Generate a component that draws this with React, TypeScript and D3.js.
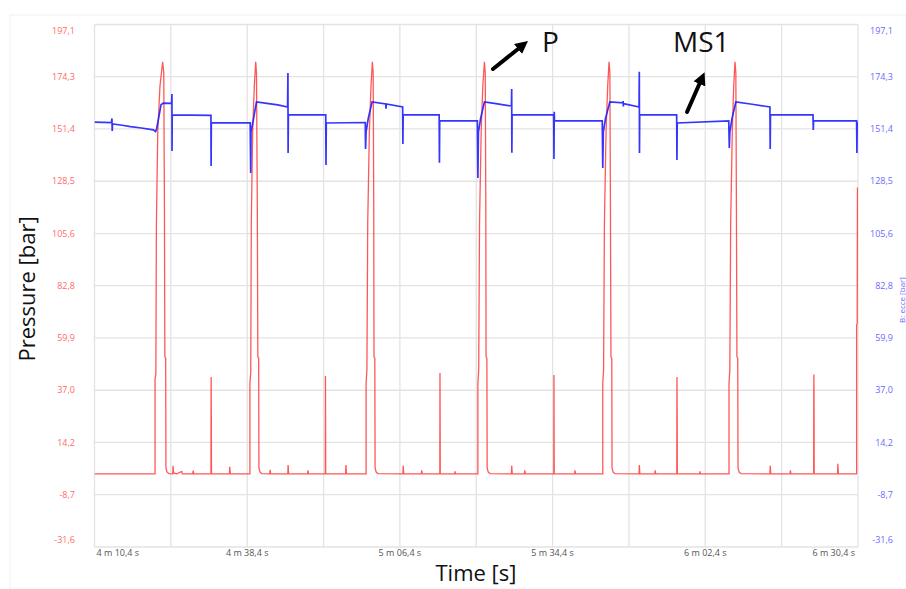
import React from "react";
import * as d3 from "d3";

// Pressure trace P [bar] over time [s]
const pressureP: [number, number][] = [
  [250.4, 0.4],
  // cycle 1
  [261.5, 0.4], [261.5, 42], [261.65, 44], [261.75, 110], [262.0, 150], [262.4, 170], [262.9, 180.8],
  [263.1, 176], [263.22, 120], [263.3, 51.6], [263.45, 51], [263.5, 3], [263.7, 1.2], [264.1, 0.5],
  [264.75, 0.4], [264.8, 3.9], [264.9, 0.8], [265.5, 0.4], [266.4, 1.5], [266.5, 0.4],
  [268.4, 0.4], [268.5, 1.8], [268.6, 0.4],
  [271.75, 0.4], [271.77, 27], [271.79, 42.8], [271.82, 27], [271.85, 0.5],
  [275.15, 0.4], [275.2, 3.5], [275.3, 0.4],
  // cycle 2
  [278.9, 0.4], [278.9, 40], [279.05, 45], [279.15, 110], [279.4, 150], [279.7, 170], [279.96, 180.8],
  [280.1, 176], [280.25, 120], [280.35, 51.6], [280.5, 51], [280.55, 3], [280.75, 1.2], [281.1, 0.5],
  [282.55, 0.4], [282.6, 2.2], [282.7, 0.4],
  [285.85, 0.4], [285.9, 4.3], [286.0, 0.4],
  [289.5, 0.4], [289.55, 2.0], [289.65, 0.4],
  [292.72, 0.4], [292.75, 43.2], [292.8, 0.5],
  [296.45, 0.4], [296.5, 4.3], [296.6, 0.4],
  // cycle 3
  [300.2, 0.4], [300.2, 40], [300.35, 46], [300.5, 110], [300.8, 150], [301.1, 170], [301.35, 180.8],
  [301.5, 176], [301.6, 120], [301.65, 51.6], [301.8, 51], [301.85, 3], [302.05, 1.2], [302.4, 0.5],
  [306.95, 0.4], [307.0, 4.0], [307.1, 0.4],
  [310.35, 0.4], [310.4, 2.0], [310.5, 0.4],
  [313.72, 0.4], [313.75, 44.6], [313.8, 0.5],
  [316.45, 0.4], [316.5, 1.5], [316.6, 0.4],
  // cycle 4
  [320.7, 0.4], [320.7, 40], [320.85, 46], [321.0, 110], [321.3, 150], [321.6, 170], [321.9, 180.8],
  [322.05, 176], [322.15, 120], [322.2, 51.6], [322.35, 51], [322.4, 3], [322.6, 1.2], [322.95, 0.5],
  [326.85, 0.4], [326.9, 4.0], [327.0, 0.4],
  [329.25, 0.4], [329.3, 2.0], [329.4, 0.4],
  [334.62, 0.4], [334.65, 43.7], [334.7, 0.5],
  [338.45, 0.4], [338.5, 2.0], [338.6, 0.4],
  // cycle 5
  [343.6, 0.4], [343.6, 40], [343.75, 46], [343.9, 110], [344.2, 150], [344.5, 170], [344.75, 180.8],
  [344.9, 176], [345.0, 120], [345.1, 51.6], [345.25, 51], [345.3, 3], [345.5, 1.2], [345.85, 0.5],
  [350.25, 0.4], [350.3, 4.3], [350.4, 0.4],
  [353.15, 0.4], [353.2, 2.0], [353.3, 0.4],
  [357.17, 0.4], [357.19, 27], [357.21, 42.8], [357.24, 27], [357.27, 0.5],
  [361.35, 0.4], [361.4, 1.5], [361.5, 0.4],
  // cycle 6
  [366.75, 0.4], [366.75, 40], [366.9, 46], [367.05, 110], [367.35, 150], [367.6, 170], [367.85, 180.8],
  [368.0, 176], [368.1, 120], [368.2, 51.6], [368.35, 51], [368.4, 3], [368.6, 1.2], [368.95, 0.5],
  [374.25, 0.4], [374.3, 4.0], [374.4, 0.4],
  [377.95, 0.4], [378.0, 2.0], [378.1, 0.4],
  [382.27, 0.4], [382.29, 33.6], [382.31, 43.9], [382.34, 33.6], [382.37, 0.5],
  [386.65, 0.4], [386.7, 4.8], [386.8, 0.4],
  // start of cycle 7
  [390.15, 0.4], [390.15, 65.6], [390.25, 66], [390.3, 125.5], [390.4, 125.5],
];

// MS1 trace [bar] over time [s]
const pressureMS1: [number, number][] = [
  [250.4, 154.4], [253.5, 154.2], [253.6, 156], [253.65, 150.5], [253.7, 153.6],
  [255.5, 153.0], [257.0, 152.4], [259.0, 151.8], [261.2, 151.0], [261.6, 150.2],
  [261.8, 151.5], [262.3, 158], [262.6, 162], [263.0, 162.7], [264.55, 162.6],
  [264.6, 166.7], [264.62, 141.7], [264.65, 157.5], [271.75, 157.3],
  [271.78, 135.2], [271.82, 154.0], [278.95, 154.0],
  // cycle 2
  [279.04, 132.1], [279.1, 150], [279.5, 155], [280.1, 163.2], [282.0, 162.6], [284.0, 161.9],
  [285.8, 161.0], [285.87, 175.9], [285.9, 140.9], [285.95, 157.5], [292.8, 157.5],
  [292.85, 135.6], [292.9, 154.0], [300.05, 154.2],
  // cycle 3
  [300.1, 142.6], [300.2, 150], [300.6, 156], [301.3, 163.2], [303.8, 162.3], [303.85, 160.2],
  [303.9, 162.3], [306.9, 161.0], [306.95, 144.8], [307.0, 157.5], [313.6, 157.5],
  [313.65, 136.6], [313.7, 154.9], [320.6, 154.9],
  // cycle 4
  [320.7, 129.9], [320.8, 150], [321.2, 156], [321.9, 163.2], [324.0, 162.5], [326.85, 161.4],
  [326.9, 168.9], [326.93, 141.0], [326.97, 157.5], [334.6, 157.5],
  [334.65, 138.2], [334.7, 158.9], [334.75, 154.9], [343.5, 154.9],
  // cycle 5
  [343.6, 134.3], [343.7, 150], [344.1, 156], [344.9, 163.2], [347.3, 162.8], [347.33, 163.6],
  [347.37, 161.2], [347.4, 162.5], [350.25, 161.0], [350.3, 176.4], [350.33, 140.9],
  [350.37, 157.5], [357.15, 157.5], [357.2, 137.8], [357.25, 154.0], [366.7, 154.9],
  // cycle 6
  [366.8, 143.0], [366.9, 150], [367.3, 156], [368.0, 163.2], [371.0, 162.2], [374.25, 161.0],
  [374.3, 142.6], [374.35, 157.5], [382.15, 157.5], [382.2, 150.9], [382.25, 154.9],
  [390.15, 154.9], [390.2, 140.9], [390.25, 154.0], [390.4, 154.0],
];

// Axis ticks
const valueTicks = [197.1, 174.3, 151.4, 128.5, 105.6, 82.8, 59.9, 37.0, 14.2, -8.7, -31.6];
const timeGrid = [250.4, 264.4, 278.4, 292.4, 306.4, 320.4, 334.4, 348.4, 362.4, 376.4, 390.4];
const timeLabels: [number, string][] = [
  [250.4, "4 m 10,4 s"],
  [278.4, "4 m 38,4 s"],
  [306.4, "5 m 06,4 s"],
  [334.4, "5 m 34,4 s"],
  [362.4, "6 m 02,4 s"],
  [390.4, "6 m 30,4 s"],
];

const W = 906;
const H = 589;
const plot = { left: 94.5, right: 858, top: 24.5, bottom: 547 };
const FONT = "'Open Sans', 'DejaVu Sans', sans-serif";

const fmt = (v: number) => v.toFixed(1).replace(".", ",");

export default function App() {
  const x = d3.scaleLinear().domain([250.4, 390.4]).range([plot.left, plot.right]);
  const y = d3.scaleLinear().domain([-31.6, 197.1]).range([plot.bottom, plot.top]);
  const line = d3
    .line<[number, number]>()
    .x((d) => x(d[0]))
    .y((d) => y(d[1]));

  const labelY = (v: number) => {
    const py = y(v);
    return Math.min(Math.max(py, plot.top + 6), plot.bottom - 7);
  };

  return (
    <svg
      width={W}
      height={H}
      style={{ position: "absolute", left: 0, top: 0, background: "#fff" }}
      fontFamily={FONT}
    >
      <defs>
        <clipPath id="plotClip">
          <rect x={plot.left} y={plot.top} width={plot.right - plot.left} height={plot.bottom - plot.top} />
        </clipPath>
        <marker id="arrowHead" viewBox="0 0 10 10" refX="5" refY="5" markerWidth="3.2" markerHeight="3.2" orient="auto">
          <path d="M0,0 L10,5 L0,10 z" fill="#000" />
        </marker>
      </defs>

      {/* outer frame */}
      <rect x={10} y={15} width={W - 10} height={H - 15} fill="none" stroke="#f2f2f2" strokeWidth={1} />

      {/* grid */}
      <g stroke="#e3e3e3" strokeWidth={1.3}>
        {valueTicks.map((v) => (
          <line key={"h" + v} x1={plot.left} x2={plot.right} y1={y(v)} y2={y(v)} />
        ))}
        {timeGrid.map((t) => (
          <line key={"v" + t} x1={x(t)} x2={x(t)} y1={plot.top} y2={plot.bottom} />
        ))}
      </g>

      {/* left axis labels */}
      <g fontSize={9} fill="#ff6a6a" textAnchor="end">
        {valueTicks.map((v) => (
          <text key={"l" + v} x={75} y={labelY(v)} dy="0.35em">
            {fmt(v)}
          </text>
        ))}
      </g>
      {/* right axis labels */}
      <g fontSize={9} fill="#6a6aff" textAnchor="end">
        {valueTicks.map((v) => (
          <text key={"r" + v} x={893} y={labelY(v)} dy="0.35em">
            {fmt(v)}
          </text>
        ))}
      </g>
      <text
        transform="translate(905,300) rotate(-90)"
        fontSize={8}
        fill="#6a6aff"
        textAnchor="middle"
      >
        B: ecce [bar]
      </text>

      {/* time labels */}
      <g fontSize={9} fill="#555">
        {timeLabels.map(([t, s], i) => (
          <text
            key={s}
            x={i === 0 ? x(t) + 2 : i === timeLabels.length - 1 ? x(t) - 3 : x(t)}
            y={556}
            textAnchor={i === 0 ? "start" : i === timeLabels.length - 1 ? "end" : "middle"}
          >
            {s}
          </text>
        ))}
      </g>

      {/* axis titles */}
      <text
        transform="translate(35,289) rotate(-90)"
        fontSize={22}
        fill="#111"
        textAnchor="middle"
      >
        Pressure [bar]
      </text>
      <text x={476} y={581} fontSize={22} fill="#111" textAnchor="middle">
        Time [s]
      </text>

      {/* series */}
      <g clipPath="url(#plotClip)">
        <path d={line(pressureP) ?? ""} fill="none" stroke="#ff3a3a" strokeOpacity={0.85} strokeWidth={1.3} />
        <path d={line(pressureMS1) ?? ""} fill="none" stroke="#1f1fff" strokeOpacity={0.9} strokeWidth={1.7} />
      </g>

      {/* annotations */}
      <g stroke="#000" strokeWidth={4} strokeLinecap="round">
        <line x1={493} y1={69} x2={523} y2={45} markerEnd="url(#arrowHead)" />
        <line x1={687} y1={112} x2={702} y2={78} markerEnd="url(#arrowHead)" />
      </g>
      <text x={542} y={52} fontSize={28} fill="#111">
        P
      </text>
      <text x={673} y={52} fontSize={28} fill="#111">
        MS1
      </text>
    </svg>
  );
}
